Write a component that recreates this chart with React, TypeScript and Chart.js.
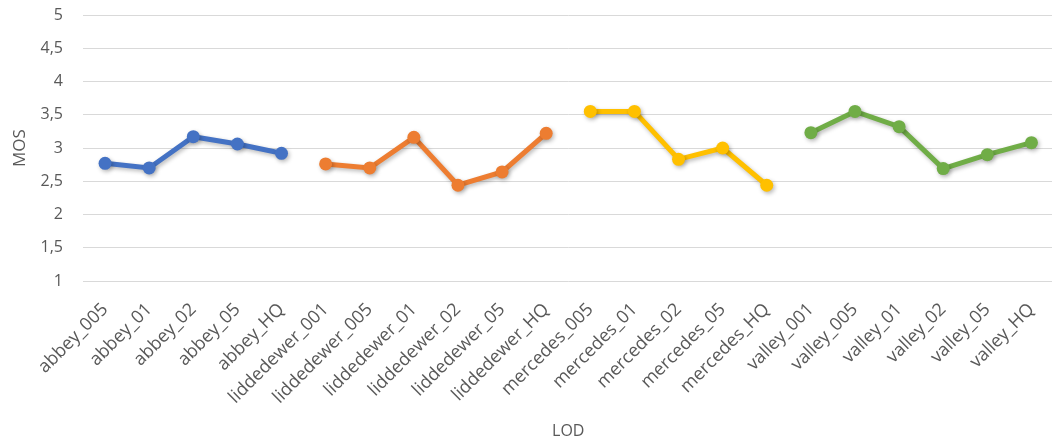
import React, { useEffect, useRef } from "react";
import { Chart, registerables } from "chart.js";

Chart.register(...registerables);

const categories = [
  "abbey_005", "abbey_01", "abbey_02", "abbey_05", "abbey_HQ",
  "liddedewer_001", "liddedewer_005", "liddedewer_01", "liddedewer_02", "liddedewer_05", "liddedewer_HQ",
  "mercedes_005", "mercedes_01", "mercedes_02", "mercedes_05", "mercedes_HQ",
  "valley_001", "valley_005", "valley_01", "valley_02", "valley_05", "valley_HQ",
];

const abbey = [2.77, 2.7, 3.17, 3.06, 2.92];
const liddedewer = [2.76, 2.7, 3.16, 2.44, 2.64, 3.22];
const mercedes = [3.55, 3.55, 2.83, 3.0, 2.44];
const valley = [3.23, 3.55, 3.32, 2.69, 2.9, 3.08];

const yTicks = [1, 1.5, 2, 2.5, 3, 3.5, 4, 4.5, 5];

// place a group's values at its own category slots, leave the rest empty
function placeAt(prefix: string, values: number[]): (number | null)[] {
  const start = categories.findIndex((c) => c.startsWith(prefix + "_"));
  return categories.map((_, i) =>
    i >= start && i < start + values.length ? values[i - start] : null
  );
}

const FONT = "'Open Sans', 'Noto Sans', sans-serif";
const TEXT = "#595959";

const shadowPlugin = {
  id: "lineShadow",
  beforeDatasetsDraw(chart: any) {
    const ctx = chart.ctx;
    ctx.save();
    ctx.shadowColor = "rgba(0,0,0,0.28)";
    ctx.shadowBlur = 4;
    ctx.shadowOffsetX = 1.5;
    ctx.shadowOffsetY = 2;
  },
  afterDatasetsDraw(chart: any) {
    chart.ctx.restore();
  },
};

export default function App() {
  const ref = useRef<HTMLCanvasElement | null>(null);

  useEffect(() => {
    document.body.style.margin = "0";
    const series = [
      { name: "abbey", values: abbey, color: "#4472C4" },
      { name: "liddedewer", values: liddedewer, color: "#ED7D31" },
      { name: "mercedes", values: mercedes, color: "#FFC000" },
      { name: "valley", values: valley, color: "#70AD47" },
    ];
    const chart = new Chart(ref.current as HTMLCanvasElement, {
      type: "line",
      data: {
        labels: categories,
        datasets: series.map((s) => ({
          label: s.name,
          data: placeAt(s.name, s.values),
          borderColor: s.color,
          backgroundColor: s.color,
          pointBackgroundColor: s.color,
          pointBorderColor: s.color,
          borderWidth: 5,
          pointRadius: 6.5,
          pointBorderWidth: 0,
          tension: 0,
          spanGaps: false,
        })),
      },
      plugins: [shadowPlugin],
      options: {
        animation: false,
        responsive: false,
        layout: { padding: { left: 0, right: 0, top: 15, bottom: 2 } },
        plugins: { legend: { display: false }, tooltip: { enabled: false } },
        scales: {
          x: {
            offset: true,
            grid: { display: false },
            border: { display: false },
            ticks: {
              autoSkip: false,
              minRotation: 45,
              maxRotation: 45,
              padding: 10,
              color: TEXT,
              font: { family: FONT, size: 18 },
            },
            title: {
              display: true,
              text: "LOD",
              color: TEXT,
              font: { family: FONT, size: 16 },
              padding: { top: 0, bottom: 0 },
            },
            afterFit(axis: any) {
              axis.height = 443 - 281 - 2;
              axis.paddingLeft = 0;
              axis.paddingRight = 0;
            },
          },
          y: {
            min: 1,
            max: 5,
            afterBuildTicks(axis: any) {
              axis.ticks = yTicks.map((v) => ({ value: v }));
            },
            grid: { color: "#D9D9D9", lineWidth: 1, drawTicks: false },
            border: { display: false },
            ticks: {
              padding: 20,
              color: TEXT,
              font: { family: FONT, size: 16 },
              callback: (v: any) => String(v).replace(".", ","),
            },
            title: {
              display: true,
              text: "MOS",
              color: TEXT,
              font: { family: FONT, size: 17 },
              padding: { top: 10, bottom: 0 },
            },
            afterFit(axis: any) {
              axis.width = 83;
              axis.paddingTop = 0;
              axis.paddingBottom = 0;
            },
          },
        },
      },
    });
    return () => chart.destroy();
  }, []);

  return (
    <div style={{ width: 1052, height: 443, overflow: "hidden" }}>
      <canvas ref={ref} width={1060} height={443} style={{ display: "block" }} />
    </div>
  );
}
